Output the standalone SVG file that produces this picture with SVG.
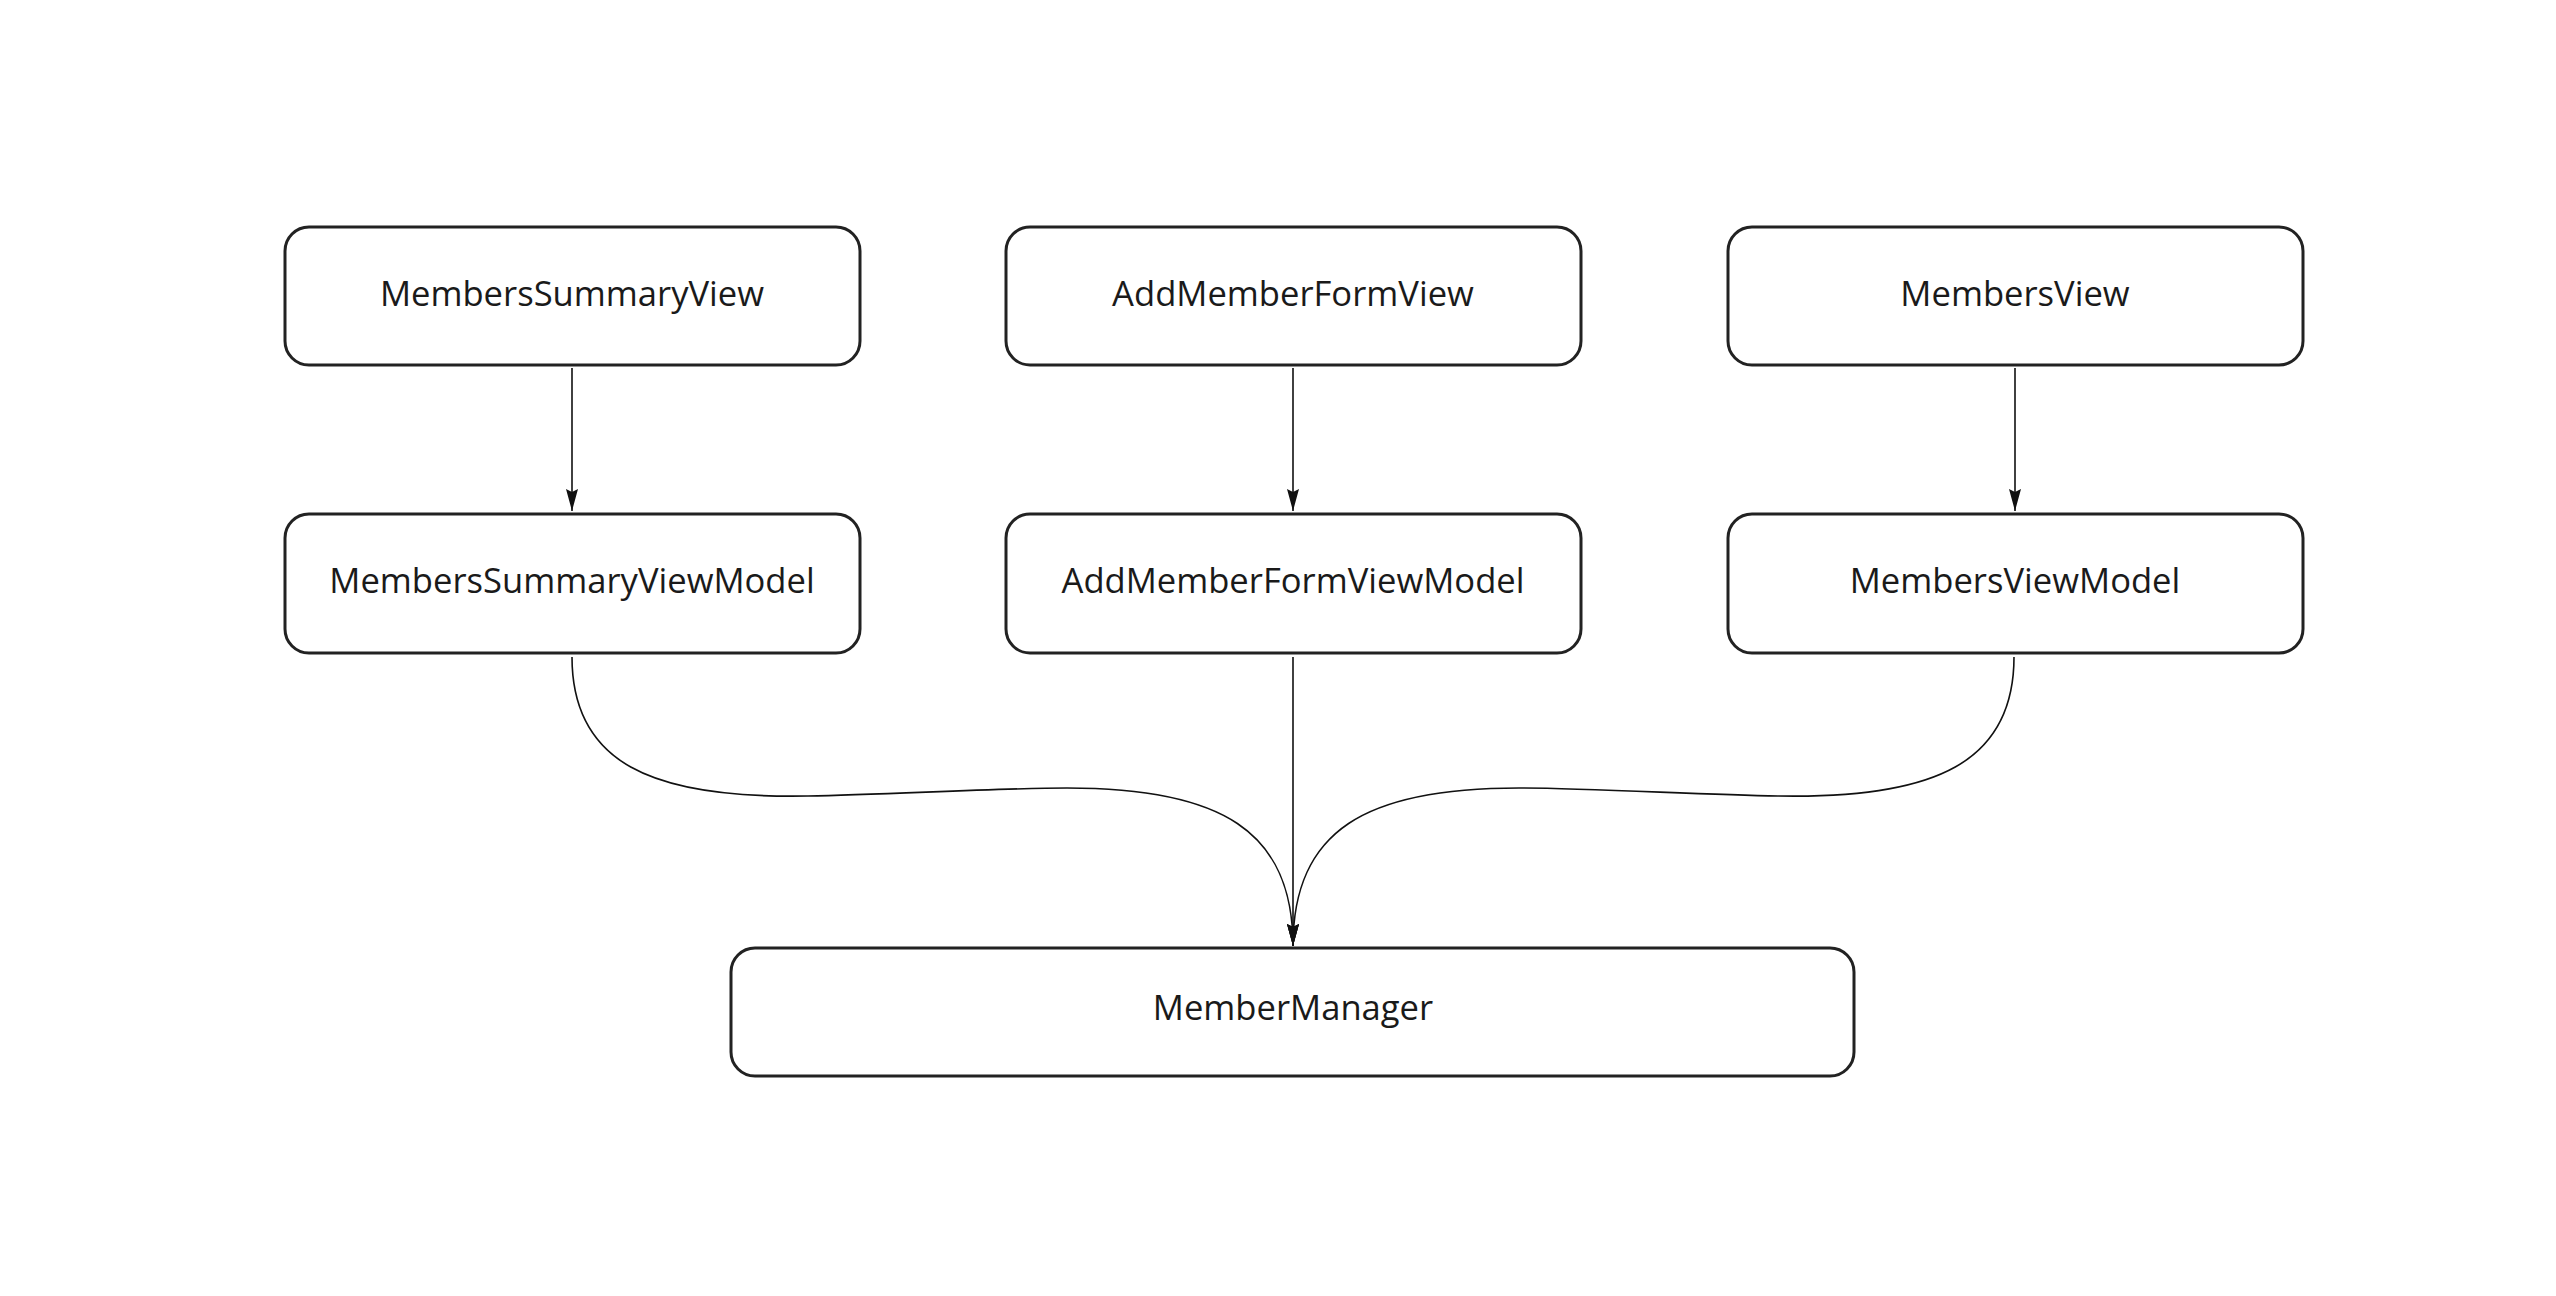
<svg xmlns="http://www.w3.org/2000/svg" width="2556" height="1296" viewBox="0 0 2556 1296">
<style>
.box{fill:#ffffff;stroke:#222222;stroke-width:3}
.lbl{font-family:"Open Sans","Noto Sans",sans-serif;font-size:34.6px;fill:#1a1a1a;text-anchor:middle}
.edge{fill:none;stroke:#111111;stroke-width:1.6}
</style>
<defs>
<marker id="arr" viewBox="0 0 22 12" refX="22" refY="6" markerWidth="22" markerHeight="12" markerUnits="userSpaceOnUse" orient="auto">
<path d="M0,0 L22,6 L0,12 L3,6 Z" fill="#111111"/>
</marker>
</defs>
<rect width="2556" height="1296" fill="#ffffff"/>
<g id="connectors">
<path class="edge" d="M572,368 L572,511" marker-end="url(#arr)"/>
<path class="edge" d="M1293,368 L1293,511" marker-end="url(#arr)"/>
<path class="edge" d="M2015,368 L2015,511" marker-end="url(#arr)"/>
<path class="edge" d="M572,657 C572,762 650,799 808,796 C888,794.5 1000,788 1067,788 C1220,788 1293,830 1293,946" marker-end="url(#arr)"/>
<path class="edge" d="M1293,657 L1293,946" marker-end="url(#arr)"/>
<path class="edge" d="M2014,657 C2014,762 1936,799 1778,796 C1698,794.5 1586,788 1519,788 C1366,788 1293,830 1293,946" marker-end="url(#arr)"/>
</g>
<g id="MembersSummaryView"><rect class="box" x="285" y="227" width="575" height="138" rx="24"/><text class="lbl" x="572" y="306">MembersSummaryView</text></g>
<g id="AddMemberFormView"><rect class="box" x="1006" y="227" width="575" height="138" rx="24"/><text class="lbl" x="1293" y="306">AddMemberFormView</text></g>
<g id="MembersView"><rect class="box" x="1728" y="227" width="575" height="138" rx="24"/><text class="lbl" x="2015" y="306">MembersView</text></g>
<g id="MembersSummaryViewModel"><rect class="box" x="285" y="514" width="575" height="139" rx="24"/><text class="lbl" x="572" y="593">MembersSummaryViewModel</text></g>
<g id="AddMemberFormViewModel"><rect class="box" x="1006" y="514" width="575" height="139" rx="24"/><text class="lbl" x="1293" y="593">AddMemberFormViewModel</text></g>
<g id="MembersViewModel"><rect class="box" x="1728" y="514" width="575" height="139" rx="24"/><text class="lbl" x="2015" y="593">MembersViewModel</text></g>
<g id="MemberManager"><rect class="box" x="731" y="948" width="1123" height="128" rx="24"/><text class="lbl" x="1293" y="1020">MemberManager</text></g>
</svg>
